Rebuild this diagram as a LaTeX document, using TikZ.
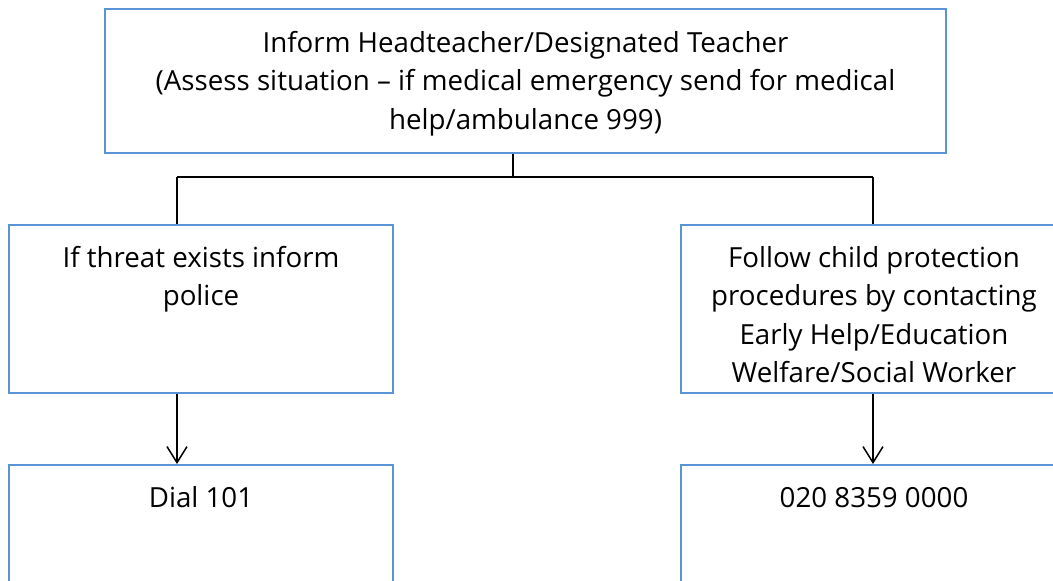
\documentclass[tikz,border=0pt]{standalone}
\usepackage{fontspec}
\setmainfont{Open Sans}
\usetikzlibrary{arrows.meta}
\definecolor{boxblue}{RGB}{91,148,214}
\newcommand\mylines[1]{\begin{tabular}[t]{@{}c@{}}#1\end{tabular}}
\tikzset{
  box/.style={rectangle, draw=boxblue, line width=2pt, inner sep=0pt, fill=white},
  lbl/.style={anchor=base, inner sep=0pt, font=\fontsize{27.7}{38.5}\selectfont},
  conn/.style={draw=black, line width=1.5pt},
  arr/.style={conn, -{Straight Barb[length=16pt,width=20pt,line width=1.5pt]}}
}
\begin{document}
\begin{tikzpicture}[x=1pt,y=-1pt]
\useasboundingbox (0,0) rectangle (1053,581);
\fill[white] (0,0) rectangle (1053,581);
\clip (0,0) rectangle (1053,581);
% boxes
\node[box, minimum width=841pt, minimum height=144pt] (top) at (525.5,81) {};
\node[box, minimum width=384pt, minimum height=168pt] (left) at (201,309) {};
\node[box, minimum width=384pt, minimum height=168pt] (right) at (873,309) {};
\node[box, minimum width=384pt, minimum height=168pt] (dial) at (201,549) {};
\node[box, minimum width=384pt, minimum height=168pt] (phone) at (873,549) {};
% texts
\node[lbl] (toptext) at (525.5,52) {\mylines{Inform Headteacher/Designated Teacher\\(Assess situation -- if medical emergency send for medical\\help/ambulance 999)}};
\node[lbl] (lefttext) at (201,267) {\mylines{If threat exists inform\\police}};
\node[lbl] (righttext) at (874,267) {\mylines{Follow child protection\\procedures by contacting\\Early Help/Education\\Welfare/Social Worker}};
\node[lbl] (dialtext) at (201,507) {Dial 101};
\node[lbl] (phonetext) at (874,507) {020 8359 0000};
% connectors
\coordinate (jt) at (513,177);
\coordinate (jl) at (177,177);
\coordinate (jr) at (873,177);
\draw[conn] (top.south -| jt) -- (jt);
\draw[conn] (jl) -- (jr);
\draw[conn] (jl) -- (jl |- left.north);
\draw[conn] (jr) -- (jr |- right.north);
\draw[arr] (left.south -| jl) -- (jl |- dial.north);
\draw[arr] (right.south -| jr) -- (jr |- phone.north);
\end{tikzpicture}
\end{document}
